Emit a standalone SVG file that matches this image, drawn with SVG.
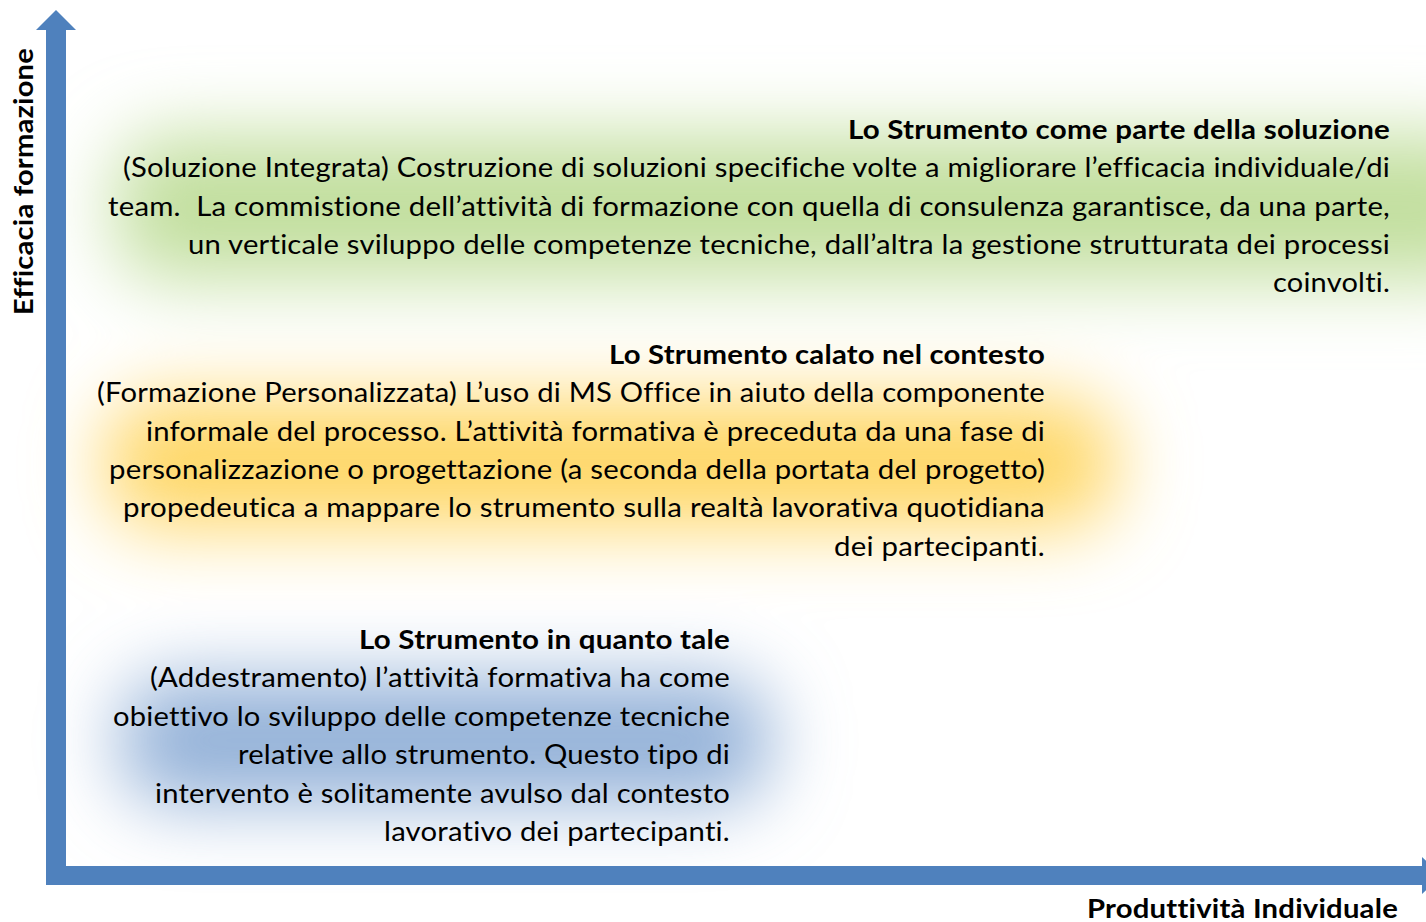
<svg xmlns="http://www.w3.org/2000/svg" width="1426" height="922" viewBox="0 0 1426 922">
<defs>
<filter id="glow" filterUnits="userSpaceOnUse" x="-200" y="-200" width="1900" height="1400">
<feGaussianBlur stdDeviation="38"/>
</filter>
<style>
.t{font-family:Lato,"Open Sans","Liberation Sans",sans-serif;font-size:27px;fill:#000;text-anchor:end;font-variant-ligatures:none;font-feature-settings:"liga" 0,"clig" 0,"dlig" 0;letter-spacing:0.2px}
.b{font-weight:bold}
.ax{font-family:Lato,"Open Sans","Liberation Sans",sans-serif;font-size:27px;font-weight:bold;fill:#000;font-variant-ligatures:none;font-feature-settings:"liga" 0,"clig" 0,"dlig" 0;letter-spacing:0.2px}
.arrow{fill:#4f81bd}
</style>
</defs>
<rect width="1426" height="922" fill="#fff"/>
<g id="glows" filter="url(#glow)">
<rect x="115" y="135" width="1400" height="145" rx="50" fill="#c2df9f"/>
<rect x="105" y="398" width="1010" height="130" rx="50" fill="#fed766"/>
<rect x="120" y="678" width="650" height="125" rx="50" fill="#93b1d8"/>
</g>
<g id="connectors">
<polygon class="arrow" points="46,885 46,30 36,30 56,10 76,30 66,30 66,866 1422,866 1422,857 1442,875.5 1422,894 1422,885"/>
</g>
<g id="axis-y">
<text class="ax" transform="translate(33,181.5) rotate(-90)" text-anchor="middle" textLength="267" lengthAdjust="spacingAndGlyphs">Efficacia formazione</text>
</g>
<g id="axis-x">
<text class="ax" x="1398" y="918" text-anchor="end" textLength="311" lengthAdjust="spacingAndGlyphs">Produttività Individuale</text>
</g>
<g id="node-soluzione">
<text class="t b" x="1390" y="139" textLength="542" lengthAdjust="spacingAndGlyphs">Lo Strumento come parte della soluzione</text>
<text class="t" x="1390" y="177" textLength="1267" lengthAdjust="spacingAndGlyphs">(Soluzione Integrata) Costruzione di soluzioni specifiche volte a migliorare l’efficacia individuale/di</text>
<text class="t" x="1390" y="216" textLength="1282" lengthAdjust="spacingAndGlyphs" xml:space="preserve">team.  La commistione dell’attività di formazione con quella di consulenza garantisce, da una parte,</text>
<text class="t" x="1390" y="254" textLength="1202" lengthAdjust="spacingAndGlyphs">un verticale sviluppo delle competenze tecniche, dall’altra la gestione strutturata dei processi</text>
<text class="t" x="1390" y="292" textLength="117" lengthAdjust="spacingAndGlyphs">coinvolti.</text>
</g>
<g id="node-contesto">
<text class="t b" x="1045" y="364" textLength="436" lengthAdjust="spacingAndGlyphs">Lo Strumento calato nel contesto</text>
<text class="t" x="1045" y="402" textLength="948" lengthAdjust="spacingAndGlyphs">(Formazione Personalizzata) L’uso di MS Office in aiuto della componente</text>
<text class="t" x="1045" y="441" textLength="899" lengthAdjust="spacingAndGlyphs">informale del processo. L’attività formativa è preceduta da una fase di</text>
<text class="t" x="1045" y="479" textLength="936" lengthAdjust="spacingAndGlyphs">personalizzazione o progettazione (a seconda della portata del progetto)</text>
<text class="t" x="1045" y="517" textLength="922" lengthAdjust="spacingAndGlyphs">propedeutica a mappare lo strumento sulla realtà lavorativa quotidiana</text>
<text class="t" x="1045" y="556" textLength="211" lengthAdjust="spacingAndGlyphs">dei partecipanti.</text>
</g>
<g id="node-tale">
<text class="t b" x="730" y="649" textLength="371" lengthAdjust="spacingAndGlyphs">Lo Strumento in quanto tale</text>
<text class="t" x="730" y="687" textLength="580" lengthAdjust="spacingAndGlyphs">(Addestramento) l’attività formativa ha come</text>
<text class="t" x="730" y="726" textLength="617" lengthAdjust="spacingAndGlyphs">obiettivo lo sviluppo delle competenze tecniche</text>
<text class="t" x="730" y="764" textLength="492" lengthAdjust="spacingAndGlyphs">relative allo strumento. Questo tipo di</text>
<text class="t" x="730" y="803" textLength="575" lengthAdjust="spacingAndGlyphs">intervento è solitamente avulso dal contesto</text>
<text class="t" x="730" y="841" textLength="346" lengthAdjust="spacingAndGlyphs">lavorativo dei partecipanti.</text>
</g>
</svg>
